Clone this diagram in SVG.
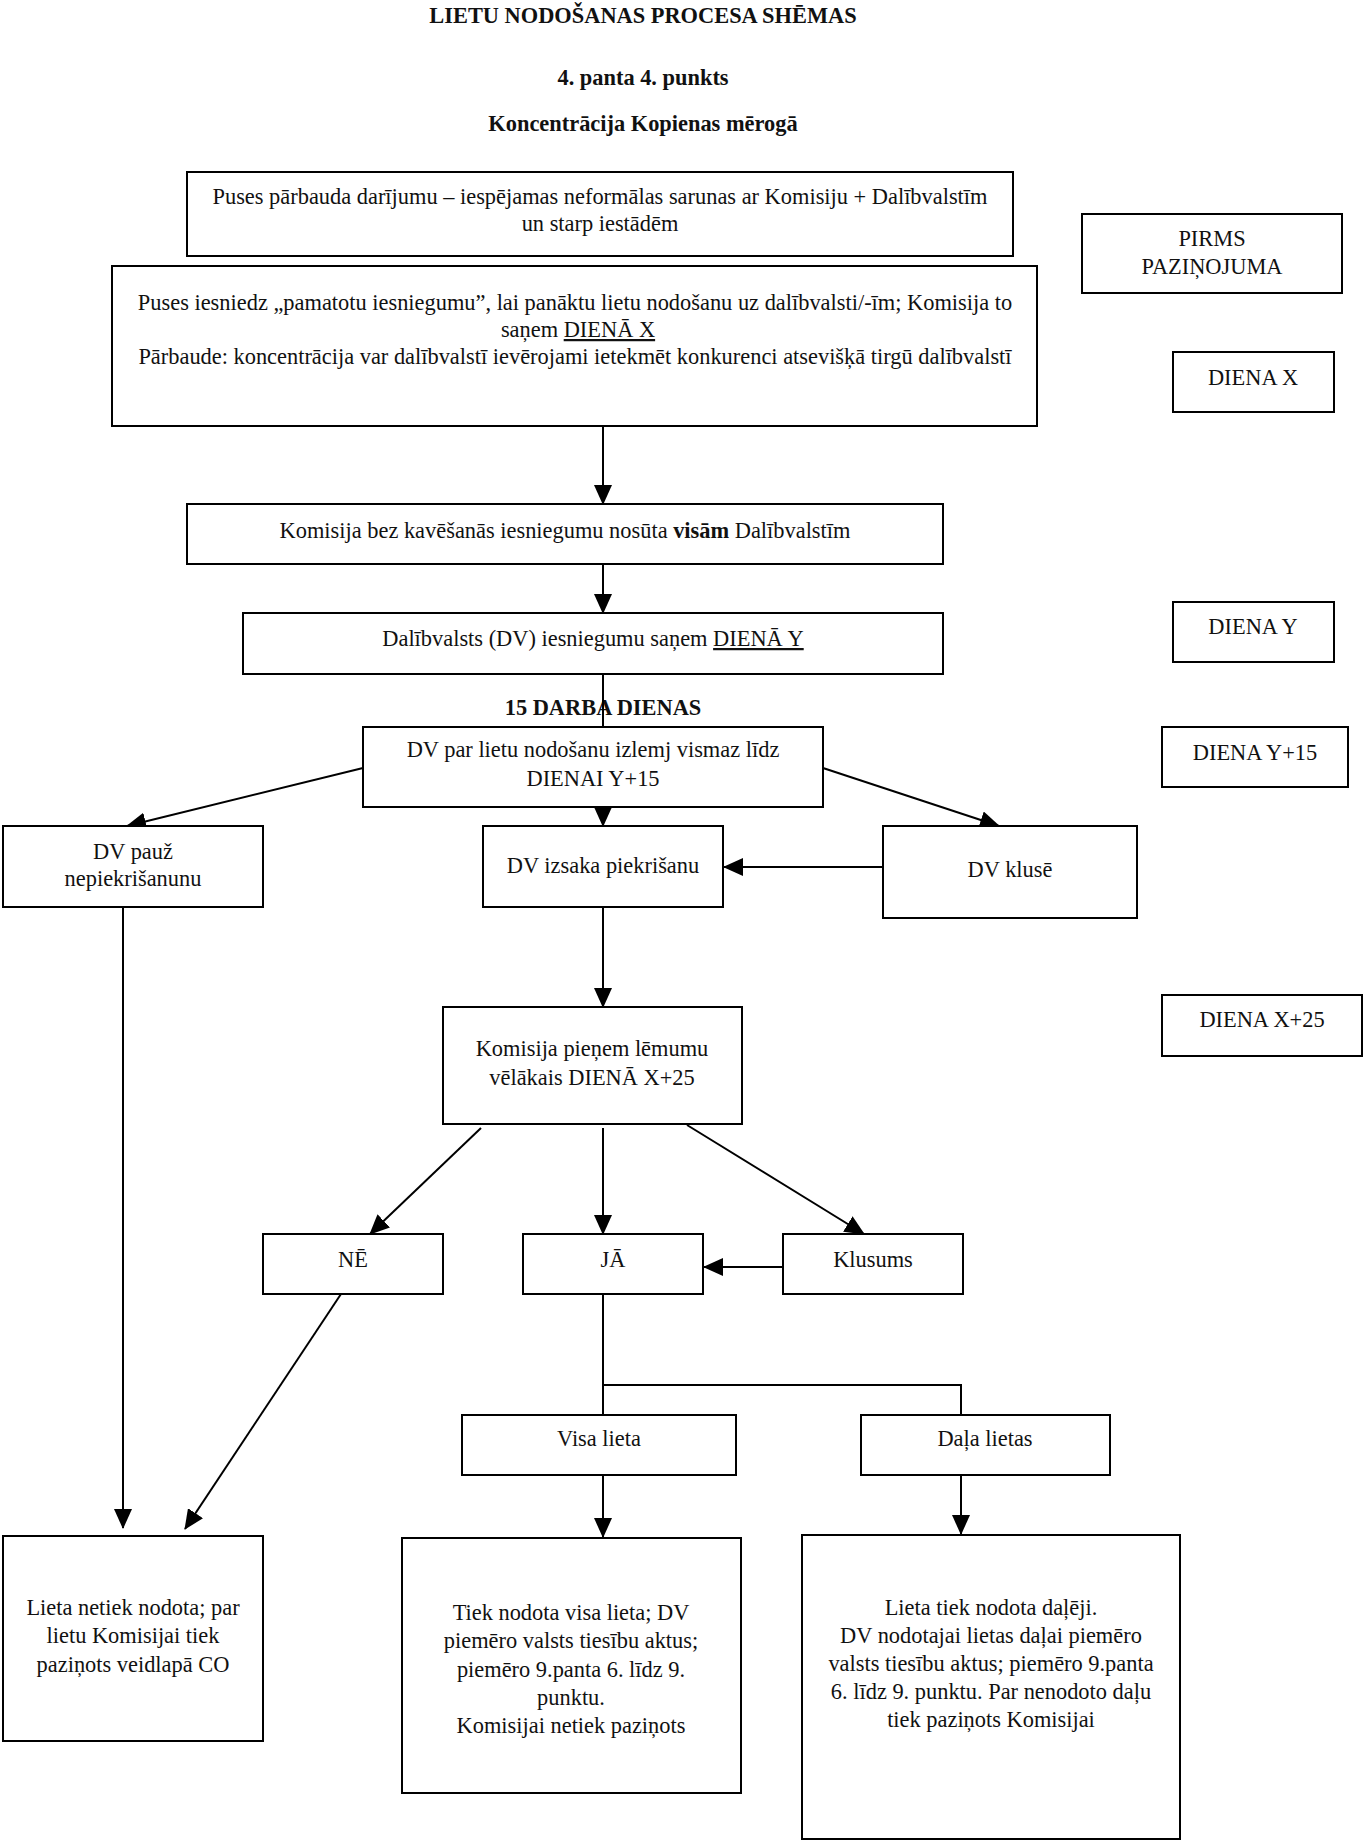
<svg xmlns="http://www.w3.org/2000/svg" width="1366" height="1847" viewBox="0 0 1366 1847">
<style>
.t{font-family:"Liberation Serif","Times New Roman",serif;font-size:22.4px;text-anchor:middle;fill:#111}
.b{font-weight:bold}
.box{fill:#fff;stroke:#000;stroke-width:2}
.c{fill:none;stroke:#000;stroke-width:2}
.ar{marker-end:url(#ah)}
</style>
<defs>
<marker id="ah" markerUnits="userSpaceOnUse" markerWidth="20" markerHeight="18" refX="19" refY="9" orient="auto" viewBox="0 0 20 18">
<path d="M0,0 L20,9 L0,18 z" fill="#000"/>
</marker>
</defs>
<g id="titles">
<text class="t b" x="643" y="23">LIETU NODOŠANAS PROCESA SHĒMAS</text>
<text class="t b" x="643" y="85">4. panta 4. punkts</text>
<text class="t b" x="643" y="131">Koncentrācija Kopienas mērogā</text>
<text class="t b" x="603" y="715">15 DARBA DIENAS</text>
</g>
<g id="connectors">
<line class="c ar" x1="603" y1="426" x2="603" y2="504"/>
<line class="c ar" x1="603" y1="564" x2="603" y2="613"/>
<line class="c" x1="603" y1="674" x2="603" y2="727"/>
<line class="c ar" x1="603" y1="807" x2="603" y2="826"/>
<line class="c ar" x1="363" y1="768" x2="127" y2="826"/>
<line class="c ar" x1="823" y1="768" x2="999" y2="826"/>
<line class="c ar" x1="883" y1="867" x2="724" y2="867"/>
<line class="c ar" x1="603" y1="908" x2="603" y2="1007"/>
<line class="c ar" x1="481" y1="1128" x2="370" y2="1234"/>
<line class="c ar" x1="603" y1="1128" x2="603" y2="1234"/>
<line class="c ar" x1="687" y1="1125" x2="864" y2="1234"/>
<line class="c ar" x1="783" y1="1267" x2="704" y2="1267"/>
<line class="c ar" x1="123" y1="908" x2="123" y2="1528"/>
<line class="c ar" x1="341" y1="1294" x2="185" y2="1529"/>
<path class="c" d="M603,1294 L603,1415 M603,1385 L961,1385 L961,1415"/>
<line class="c ar" x1="603" y1="1475" x2="603" y2="1537"/>
<line class="c ar" x1="961" y1="1475" x2="961" y2="1534"/>
</g>
<g id="n_puses_parbauda">
<rect class="box" x="187" y="172" width="826" height="84"/>
<text class="t" x="600" y="204">Puses pārbauda darījumu – iespējamas neformālas sarunas ar Komisiju + Dalībvalstīm</text>
<text class="t" x="600" y="231">un starp iestādēm</text>
</g>
<g id="n_pirms">
<rect class="box" x="1082" y="214" width="260" height="79"/>
<text class="t" x="1212" y="246">PIRMS</text>
<text class="t" x="1212" y="274">PAZIŅOJUMA</text>
</g>
<g id="n_puses_iesniedz">
<rect class="box" x="112" y="266" width="925" height="160"/>
<text class="t" x="575" y="310">Puses iesniedz „pamatotu iesniegumu”, lai panāktu lietu nodošanu  uz dalībvalsti/-īm; Komisija to</text>
<text class="t" x="578" y="337">saņem <tspan text-decoration="underline">DIENĀ X</tspan></text>
<text class="t" x="575" y="364">Pārbaude: koncentrācija var dalībvalstī  ievērojami ietekmēt konkurenci atsevišķā tirgū dalībvalstī</text>
</g>
<g id="n_diena_x">
<rect class="box" x="1173" y="352" width="161" height="60"/>
<text class="t" x="1253" y="385">DIENA X</text>
</g>
<g id="n_komisija_nosuta">
<rect class="box" x="187" y="504" width="756" height="60"/>
<text class="t" x="565" y="538">Komisija bez kavēšanās iesniegumu nosūta <tspan class="b">visām</tspan> Dalībvalstīm</text>
</g>
<g id="n_dv_sanem">
<rect class="box" x="243" y="613" width="700" height="61"/>
<text class="t" x="593" y="646">Dalībvalsts (DV) iesniegumu saņem <tspan text-decoration="underline">DIENĀ Y</tspan></text>
</g>
<g id="n_diena_y">
<rect class="box" x="1173" y="602" width="161" height="60"/>
<text class="t" x="1253" y="634">DIENA Y</text>
</g>
<g id="n_dv_izlemj">
<rect class="box" x="363" y="727" width="460" height="80"/>
<text class="t" x="593" y="757">DV par lietu nodošanu izlemj vismaz līdz</text>
<text class="t" x="593" y="786">DIENAI Y+15</text>
</g>
<g id="n_diena_y15">
<rect class="box" x="1162" y="727" width="186" height="60"/>
<text class="t" x="1255" y="760">DIENA Y+15</text>
</g>
<g id="n_dv_pauz">
<rect class="box" x="3" y="826" width="260" height="81"/>
<text class="t" x="133" y="859">DV pauž</text>
<text class="t" x="133" y="886">nepiekrišanunu</text>
</g>
<g id="n_dv_izsaka">
<rect class="box" x="483" y="826" width="240" height="81"/>
<text class="t" x="603" y="873">DV izsaka piekrišanu</text>
</g>
<g id="n_dv_kluse">
<rect class="box" x="883" y="826" width="254" height="92"/>
<text class="t" x="1010" y="877">DV klusē</text>
</g>
<g id="n_komisija_lemums">
<rect class="box" x="443" y="1007" width="299" height="117"/>
<text class="t" x="592" y="1056">Komisija pieņem lēmumu</text>
<text class="t" x="592" y="1085">vēlākais DIENĀ X+25</text>
</g>
<g id="n_diena_x25">
<rect class="box" x="1162" y="995" width="200" height="61"/>
<text class="t" x="1262" y="1027">DIENA X+25</text>
</g>
<g id="n_ne">
<rect class="box" x="263" y="1234" width="180" height="60"/>
<text class="t" x="353" y="1267">NĒ</text>
</g>
<g id="n_ja">
<rect class="box" x="523" y="1234" width="180" height="60"/>
<text class="t" x="613" y="1267">JĀ</text>
</g>
<g id="n_klusums">
<rect class="box" x="783" y="1234" width="180" height="60"/>
<text class="t" x="873" y="1267">Klusums</text>
</g>
<g id="n_visa_lieta">
<rect class="box" x="462" y="1415" width="274" height="60"/>
<text class="t" x="599" y="1446">Visa lieta</text>
</g>
<g id="n_dala_lietas">
<rect class="box" x="861" y="1415" width="249" height="60"/>
<text class="t" x="985" y="1446">Daļa lietas</text>
</g>
<g id="n_netiek_nodota">
<rect class="box" x="3" y="1536" width="260" height="205"/>
<text class="t" x="133" y="1615">Lieta netiek nodota; par</text>
<text class="t" x="133" y="1643">lietu Komisijai tiek</text>
<text class="t" x="133" y="1672">paziņots veidlapā CO</text>
</g>
<g id="n_nodota_visa">
<rect class="box" x="402" y="1538" width="339" height="255"/>
<text class="t" x="571" y="1620">Tiek nodota visa lieta; DV</text>
<text class="t" x="571" y="1648">piemēro valsts tiesību aktus;</text>
<text class="t" x="571" y="1677">piemēro 9.panta 6. līdz 9.</text>
<text class="t" x="571" y="1705">punktu.</text>
<text class="t" x="571" y="1733">Komisijai netiek paziņots</text>
</g>
<g id="n_nodota_daleji">
<rect class="box" x="802" y="1535" width="378" height="304"/>
<text class="t" x="991" y="1615">Lieta tiek nodota daļēji.</text>
<text class="t" x="991" y="1643">DV nodotajai lietas daļai piemēro</text>
<text class="t" x="991" y="1671">valsts tiesību aktus; piemēro 9.panta</text>
<text class="t" x="991" y="1699">6. līdz 9. punktu. Par nenodoto daļu</text>
<text class="t" x="991" y="1727">tiek paziņots Komisijai</text>
</g>
</svg>
